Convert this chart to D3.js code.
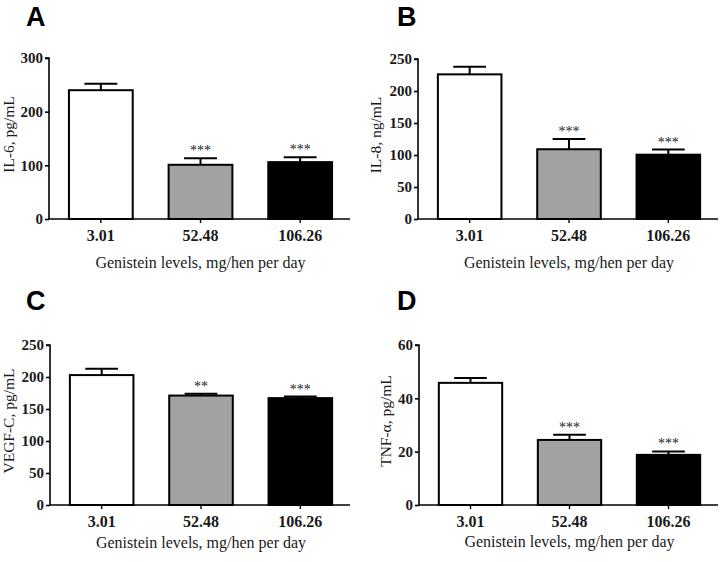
<!DOCTYPE html>
<html>
<head>
<meta charset="utf-8">
<script src="https://cdn.jsdelivr.net/npm/d3@7"></script>
<style>
  html, body { margin: 0; padding: 0; background: #fff; }
  svg { display: block; }
</style>
</head>
<body>
<svg id="chart" width="722" height="562"></svg>
<script>
// ---- data ----
const categories = ["3.01", "52.48", "106.26"];
const xAxisTitle = "Genistein levels, mg/hen per day";

const il6Means   = [240, 101, 106];
const il6Errors  = [12, 12, 9];
const il6Stars   = ["", "***", "***"];
const il6Ticks   = [0, 100, 200, 300];

const il8Means   = [226, 109, 100.5];
const il8Errors  = [12, 16, 8];
const il8Stars   = ["", "***", "***"];
const il8Ticks   = [0, 50, 100, 150, 200, 250];

const vegfMeans  = [203, 171, 167];
const vegfErrors = [10, 3, 2.5];
const vegfStars  = ["", "**", "***"];
const vegfTicks  = [0, 50, 100, 150, 200, 250];

const tnfMeans   = [45.8, 24.4, 18.8];
const tnfErrors  = [1.8, 1.9, 1.3];
const tnfStars   = ["", "***", "***"];
const tnfTicks   = [0, 20, 40, 60];

const barFills = ["#ffffff", "#a2a2a2", "#000000"];

// ---- layout per panel ----
const panels = [
  { letter: "A", yTitle: "IL-6, pg/mL",   means: il6Means,  errors: il6Errors,  stars: il6Stars,  ticks: il6Ticks,
    ax: 49,  x1: 350, yTop: 58,  yBot: 219, lx: 26,  ly: 26,  tOff: 35, xtOff: 49 },
  { letter: "B", yTitle: "IL-8, ng/mL",   means: il8Means,  errors: il8Errors,  stars: il8Stars,  ticks: il8Ticks,
    ax: 418, x1: 718, yTop: 59,  yBot: 219, lx: 397, ly: 26,  tOff: 37, xtOff: 49 },
  { letter: "C", yTitle: "VEGF-C, pg/mL", means: vegfMeans, errors: vegfErrors, stars: vegfStars, ticks: vegfTicks,
    ax: 50,  x1: 350, yTop: 345, yBot: 505, lx: 26,  ly: 310, tOff: 36, xtOff: 43 },
  { letter: "D", yTitle: "TNF-α, pg/mL",  means: tnfMeans,  errors: tnfErrors,  stars: tnfStars,  ticks: tnfTicks,
    ax: 419, x1: 718, yTop: 345, yBot: 505, lx: 397, ly: 310, tOff: 28, xtOff: 42 }
];

const svg = d3.select("#chart");
const serif = "'Liberation Serif', 'Times New Roman', serif";

panels.forEach(p => {
  const g = svg.append("g");
  const yMax = p.ticks[p.ticks.length - 1];
  const y = d3.scaleLinear().domain([0, yMax]).range([p.yBot, p.yTop]);
  const x = d3.scaleBand().domain(categories).range([p.ax + 2, p.x1])
    .paddingInner(0.34).paddingOuter(0.17);

  // panel letter
  g.append("text").attr("x", p.lx).attr("y", p.ly)
    .attr("font-family", "'Liberation Sans', Arial, sans-serif")
    .attr("font-weight", "bold").attr("font-size", 27).attr("fill", "#000")
    .text(p.letter);

  const data = categories.map((c, i) => ({ c, v: p.means[i], e: p.errors[i], s: p.stars[i], f: barFills[i] }));

  // error bars (upper only)
  const capW = x.bandwidth() / 2;
  data.forEach(d => {
    const cx = x(d.c) + x.bandwidth() / 2;
    g.append("line").attr("x1", cx).attr("x2", cx)
      .attr("y1", y(d.v)).attr("y2", y(d.v + d.e))
      .attr("stroke", "#000").attr("stroke-width", 2);
    g.append("line").attr("x1", cx - capW / 2).attr("x2", cx + capW / 2)
      .attr("y1", y(d.v + d.e)).attr("y2", y(d.v + d.e))
      .attr("stroke", "#000").attr("stroke-width", 2);
    if (d.s) {
      g.append("text").attr("x", cx).attr("y", y(d.v + d.e) - 3)
        .attr("text-anchor", "middle").attr("font-family", serif)
        .attr("font-size", 14).attr("fill", "#222")
        .text(d.s);
    }
  });

  // bars
  g.selectAll("rect.bar").data(data).enter().append("rect")
    .attr("class", "bar")
    .attr("x", d => x(d.c) + 1)
    .attr("width", x.bandwidth() - 2)
    .attr("y", d => y(d.v))
    .attr("height", d => y(0) - y(d.v))
    .attr("fill", d => d.f)
    .attr("stroke", "#000").attr("stroke-width", 2);

  // y axis
  const yAxis = g.append("g").attr("transform", `translate(${p.ax},0)`)
    .call(d3.axisLeft(y).tickValues(p.ticks).tickSize(4).tickPadding(2).tickFormat(d3.format("d")));
  yAxis.select(".domain").attr("stroke", "#000").attr("stroke-width", 1.6)
    .attr("d", `M-4,${p.yTop}H0V${p.yBot}`);
  yAxis.selectAll(".tick line").attr("stroke", "#000").attr("stroke-width", 1.6);
  yAxis.selectAll(".tick text").attr("font-family", serif).attr("font-weight", "bold")
    .attr("font-size", 15).attr("fill", "#1a1a1a");

  // x axis
  const xAxis = g.append("g").attr("transform", `translate(0,${p.yBot})`)
    .call(d3.axisBottom(x).tickSize(4).tickPadding(7));
  xAxis.select(".domain").attr("stroke", "#000").attr("stroke-width", 1.6)
    .attr("d", `M${p.ax},0H${p.x1}`);
  xAxis.selectAll(".tick line").attr("stroke", "#000").attr("stroke-width", 1.4);
  xAxis.selectAll(".tick text").attr("font-family", serif).attr("font-weight", "bold")
    .attr("font-size", 16).attr("fill", "#1a1a1a");

  // x title
  g.append("text").attr("x", (p.ax + p.x1) / 2 + 1).attr("y", p.yBot + p.xtOff)
    .attr("text-anchor", "middle").attr("font-family", serif)
    .attr("font-size", 16).attr("fill", "#1a1a1a").text(xAxisTitle);

  // y title
  g.append("text")
    .attr("transform", `translate(${p.ax - p.tOff},${(p.yTop + p.yBot) / 2 - 4}) rotate(-90)`)
    .attr("text-anchor", "middle").attr("font-family", serif)
    .attr("font-size", 15.5).attr("fill", "#1a1a1a").text(p.yTitle);
});
</script>
</body>
</html>
